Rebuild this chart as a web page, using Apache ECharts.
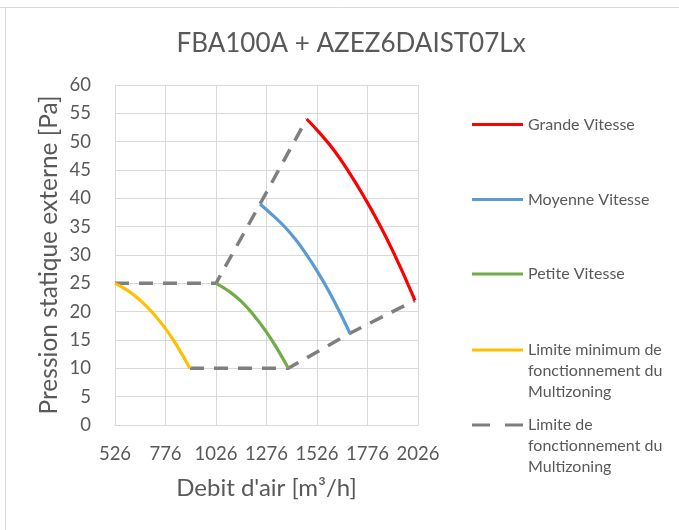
<!DOCTYPE html>
<html><head><meta charset="utf-8">
<script src="https://cdn.jsdelivr.net/npm/echarts@6/dist/echarts.min.js"></script>
<style>html,body{margin:0;padding:0;background:#fff}#c{width:679px;height:530px}</style>
</head><body><div id="c"></div>
<script>
const chartTitle = 'FBA100A + AZEZ6DAIST07Lx';
const xAxisName = "Debit d'air [m³/h]";
const yAxisName = 'Pression statique externe [Pa]';
const xTicks = [526, 776, 1026, 1276, 1526, 1776, 2026];
const yTicks = [0, 5, 10, 15, 20, 25, 30, 35, 40, 45, 50, 55, 60];
const seriesNames = [
  'Grande Vitesse',
  'Moyenne Vitesse',
  'Petite Vitesse',
  'Limite minimum de\nfonctionnement du\nMultizoning',
  'Limite de\nfonctionnement du\nMultizoning'
];
const grandeVitesse = [[1475, 54], [1540, 51.5], [1610, 48.5], [1681, 44.8], [1760, 40.2], [1838, 35.2], [1912, 29.9], [1978, 24.7], [2011, 22]];
const moyenneVitesse = [[1244, 39], [1310, 36.9], [1368, 34.9], [1425, 32.5], [1475, 30], [1526, 27.2], [1580, 23.9], [1640, 19.8], [1689, 16.2]];
const petiteVitesse = [[1026, 25], [1090, 23.6], [1151, 21.8], [1212, 19.4], [1276, 16.4], [1330, 13.4], [1384, 10]];
const limiteMinimum = [[526, 25], [590, 23.7], [651, 22.0], [712, 19.8], [776, 17.0], [836, 13.8], [897, 10]];
const limiteFonctionnementHaut = [[526, 25], [1026, 25], [1244, 39], [1475, 54]];
const limiteFonctionnementBas = [[897, 10], [1384, 10], [1689, 16.2], [2011, 22]];

const xOrigin = xTicks[0];
const xStep = xTicks[1] - xTicks[0];
const toPlot = pts => pts.map(p => [p[0] - xOrigin, p[1]]);

const colors = ['#ff0000', '#5b9bd5', '#70ad47', '#ffc000', '#7f7f7f'];
const txt = '#595959';
const font = 'Lato';

const solidIcon1 = 'path://M0,0M51,21M0,9h51v3h-51z';
const solidIcon3 = 'path://M0,0M51,63M0,9h51v3h-51z';
const dashIcon3 = 'path://M0,0M51,63M0,9h18v3h-18zM33,9h18v3h-18z';
const legendIcons = [solidIcon1, solidIcon1, solidIcon1, solidIcon3, dashIcon3];
const legendHeights = [21, 21, 21, 63, 63];
const legendTops = [114, 189, 263.5, 339.5, 414.5];

const chart = echarts.init(document.getElementById('c'), null, {renderer: 'canvas'});
const curve = (i, data) => ({
  name: seriesNames[i], type: 'line', data: toPlot(data), smooth: 0.5,
  showSymbol: false, symbol: 'none', color: colors[i],
  lineStyle: {color: colors[i], width: 3.2}, itemStyle: {color: colors[i]},
  z: 3
});
const dashData = toPlot(limiteFonctionnementHaut).concat([['-', '-']], toPlot(limiteFonctionnementBas));

chart.setOption({
  animation: false,
  backgroundColor: '#fff',
  title: {
    text: chartTitle, left: 346, top: 26, textAlign: 'center',
    textStyle: {fontFamily: font, fontSize: 26, fontWeight: 'normal', color: txt}
  },
  grid: {left: 115, right: 261, top: 85, bottom: 105, containLabel: false},
  xAxis: {
    type: 'value', min: 0, max: xTicks[xTicks.length - 1] - xOrigin, interval: xStep,
    name: xAxisName, nameLocation: 'middle', nameGap: 51,
    nameTextStyle: {fontFamily: font, fontSize: 24, color: txt},
    axisLine: {show: true, lineStyle: {color: '#d9d9d9', width: 1}},
    axisTick: {show: false},
    axisLabel: {margin: 20, fontFamily: font, fontSize: 18.5, color: txt, formatter: v => String(v + xOrigin)},
    splitLine: {show: true, lineStyle: {color: '#d9d9d9', width: 1}}
  },
  yAxis: {
    type: 'value', min: yTicks[0], max: yTicks[yTicks.length - 1], interval: yTicks[1] - yTicks[0],
    name: yAxisName, nameLocation: 'middle', nameGap: 53,
    nameTextStyle: {fontFamily: font, fontSize: 24.5, color: txt},
    axisLine: {show: true, lineStyle: {color: '#d9d9d9', width: 1}},
    axisTick: {show: false},
    axisLabel: {margin: 24, fontFamily: font, fontSize: 18.5, color: txt},
    splitLine: {show: true, lineStyle: {color: '#d9d9d9', width: 1}}
  },
  legend: seriesNames.map((n, i) => ({
    data: [{name: n, icon: legendIcons[i]}],
    left: 472, top: legendTops[i], orient: 'vertical', padding: 0, itemGap: 0,
    itemWidth: 51, itemHeight: legendHeights[i], selectedMode: false,
    itemStyle: {borderWidth: 0},
    textStyle: {fontFamily: font, fontSize: 16, color: txt, lineHeight: 21}
  })),
  graphic: [
    {type: 'line', shape: {x1: 0, y1: 7.5, x2: 679, y2: 7.5}, style: {stroke: '#d9d9d9', lineWidth: 1}, silent: true},
    {type: 'line', shape: {x1: 5.5, y1: 7, x2: 5.5, y2: 530}, style: {stroke: '#d9d9d9', lineWidth: 1}, silent: true}
  ],
  series: [
    curve(0, grandeVitesse),
    curve(1, moyenneVitesse),
    curve(2, petiteVitesse),
    curve(3, limiteMinimum),
    {
      name: seriesNames[4], type: 'line', data: dashData, connectNulls: false,
      showSymbol: false, symbol: 'none', color: colors[4],
      lineStyle: {color: colors[4], width: 3.5, type: [14, 10]}, itemStyle: {color: colors[4]},
      z: 2
    }
  ]
});
</script>
</body></html>
